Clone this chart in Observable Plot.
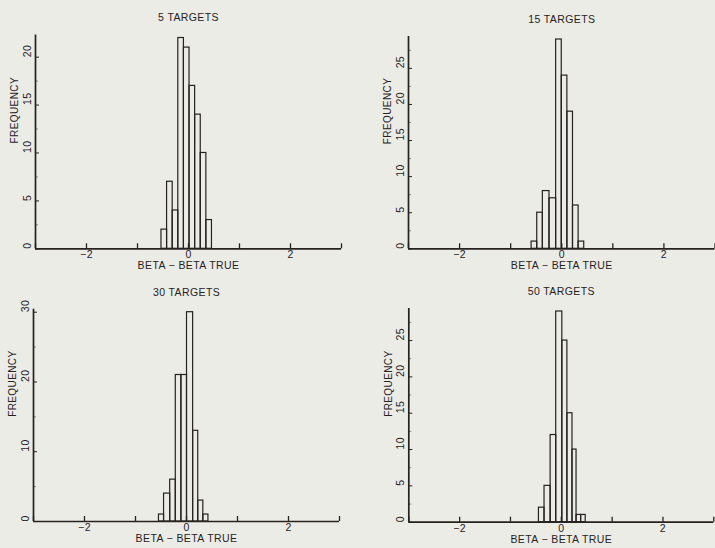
<!DOCTYPE html>
<html><head><meta charset="utf-8">
<script src="https://cdn.jsdelivr.net/npm/d3@7"></script>
<script src="https://cdn.jsdelivr.net/npm/@observablehq/plot@0.6"></script>
<style>
body{margin:0;background:#ecece7;}
#wrap{position:relative;width:715px;height:548px;overflow:hidden;background:#ecece7;}
.panel{position:absolute;}
.panel text{letter-spacing:0.4px;}
</style></head><body><div id="wrap"></div>
<script>
// ---- data ----
const titles = ["5 TARGETS", "15 TARGETS", "30 TARGETS", "50 TARGETS"];
const xLabel = "BETA − BETA TRUE";
const yLabel = "FREQUENCY";

const edges5  = [-0.53, -0.42, -0.31, -0.20, -0.09, 0.02, 0.13, 0.24, 0.35, 0.46];
const counts5 = [2, 7, 4, 22, 21, 17, 14, 10, 3];
const edges15  = [-0.59, -0.48, -0.37, -0.24, -0.11, 0.00, 0.11, 0.22, 0.33, 0.44];
const counts15 = [1, 5, 8, 7, 29, 24, 19, 6, 1];
const edges30  = [-0.54, -0.44, -0.32, -0.21, -0.10, 0.01, 0.13, 0.23, 0.33, 0.43];
const counts30 = [1, 4, 6, 21, 21, 30, 13, 3, 1];
const edges50  = [-0.44, -0.33, -0.21, -0.10, 0.02, 0.12, 0.22, 0.30, 0.39, 0.48];
const counts50 = [2, 5, 12, 29, 25, 15, 10, 1, 1];

const xDomain = [-3, 3];
const xTicks = [-3, -2, -1, 0, 1, 2, 3];
const xTickValues = [-2, 0, 2];
const xTickLabels = ["−2", "0", "2"];

const yMajor5 = [0, 5, 10, 15, 20];
const yMinor5 = [2.5, 7.5, 12.5, 17.5];
const yMajor15 = [0, 5, 10, 15, 20, 25];
const yMinor15 = [2.5, 7.5, 12.5, 17.5, 22.5, 27.5];
const yMajor30 = [0, 10, 20, 30];
const yMinor30 = [5, 15, 25];
const yMajor50 = [0, 5, 10, 15, 20, 25];
const yMinor50 = [2.5, 7.5, 12.5, 17.5, 22.5, 27.5];

// ---- layout ----
const panels = [
  {title: titles[0], edges: edges5, counts: counts5, major: yMajor5, minor: yMinor5,
   left: 0, top: 0, width: 357, height: 275, mL: 35, mR: 16, mT: 37.5, mB: 26.7},
  {title: titles[1], edges: edges15, counts: counts15, major: yMajor15, minor: yMinor15,
   left: 357, top: 0, width: 358, height: 275, mL: 51, mR: 0.5, mT: 39, mB: 26.7},
  {title: titles[2], edges: edges30, counts: counts30, major: yMajor30, minor: yMinor30,
   left: 0, top: 275, width: 357, height: 273, mL: 33, mR: 18, mT: 36.7, mB: 27},
  {title: titles[3], edges: edges50, counts: counts50, major: yMajor50, minor: yMinor50,
   left: 357, top: 275, width: 358, height: 273, mL: 51.3, mR: 1.7, mT: 36, mB: 26.3}
];

const ink = "#26221f";
const font = "'Liberation Sans', Arial, Helvetica, sans-serif";
const wrap = document.getElementById("wrap");

for (const p of panels) {
  const bins = p.counts.map((c, i) => ({x1: p.edges[i], x2: p.edges[i + 1], n: c}));
  const frameW = p.width - p.mL - p.mR;
  const frameH = p.height - p.mT - p.mB;
  const xt = xTickValues.map((v, i) => ({v, t: xTickLabels[i]}));
  const chart = Plot.plot({
    width: p.width,
    height: p.height,
    marginLeft: p.mL, marginRight: p.mR, marginTop: p.mT, marginBottom: p.mB,
    x: {domain: xDomain, axis: null},
    y: {domain: [0, d3.max(p.counts)], axis: null},
    style: {background: "transparent", fontFamily: font, fontSize: "10.5px", color: ink, overflow: "visible"},
    marks: [
      Plot.rectY(bins, {x1: "x1", x2: "x2", y: "n", fill: "none", stroke: ink, strokeWidth: 1.2}),
      Plot.ruleY([0], {stroke: ink, strokeWidth: 1.7}),
      Plot.ruleX([xDomain[0]], {stroke: ink, strokeWidth: 1.7, insetTop: -3}),
      Plot.tickX(xTicks, {x: d => d, stroke: ink, strokeWidth: 1.3, insetTop: frameH - 5}),
      Plot.tickY(p.major, {y: d => d, stroke: ink, strokeWidth: 1, insetRight: frameW - 4}),
      Plot.tickY(p.minor, {y: d => d, stroke: ink, strokeWidth: 0.8, strokeOpacity: 0.6, insetRight: frameW - 3}),
      Plot.text(xt, {x: "v", text: "t", frameAnchor: "bottom", dy: 9.5, fill: ink, fontSize: 10.5}),
      Plot.text(p.major, {y: d => d, text: d => String(d), frameAnchor: "left", dx: -8, rotate: -90, fill: ink, fontSize: 10.5}),
      Plot.text([xLabel], {text: d => d, frameAnchor: "bottom", dy: 20.5, fill: ink, fontSize: 10.5}),
      Plot.text([yLabel], {text: d => d, frameAnchor: "left", dx: -20.5, rotate: -90, fill: ink, fontSize: 10}),
      Plot.text([p.title], {text: d => d, frameAnchor: "top", dy: -24, fill: ink, fontSize: 10.5})
    ]
  });
  chart.classList.add("panel");
  chart.style.left = p.left + "px";
  chart.style.top = p.top + "px";
  wrap.appendChild(chart);
}
</script></body></html>
